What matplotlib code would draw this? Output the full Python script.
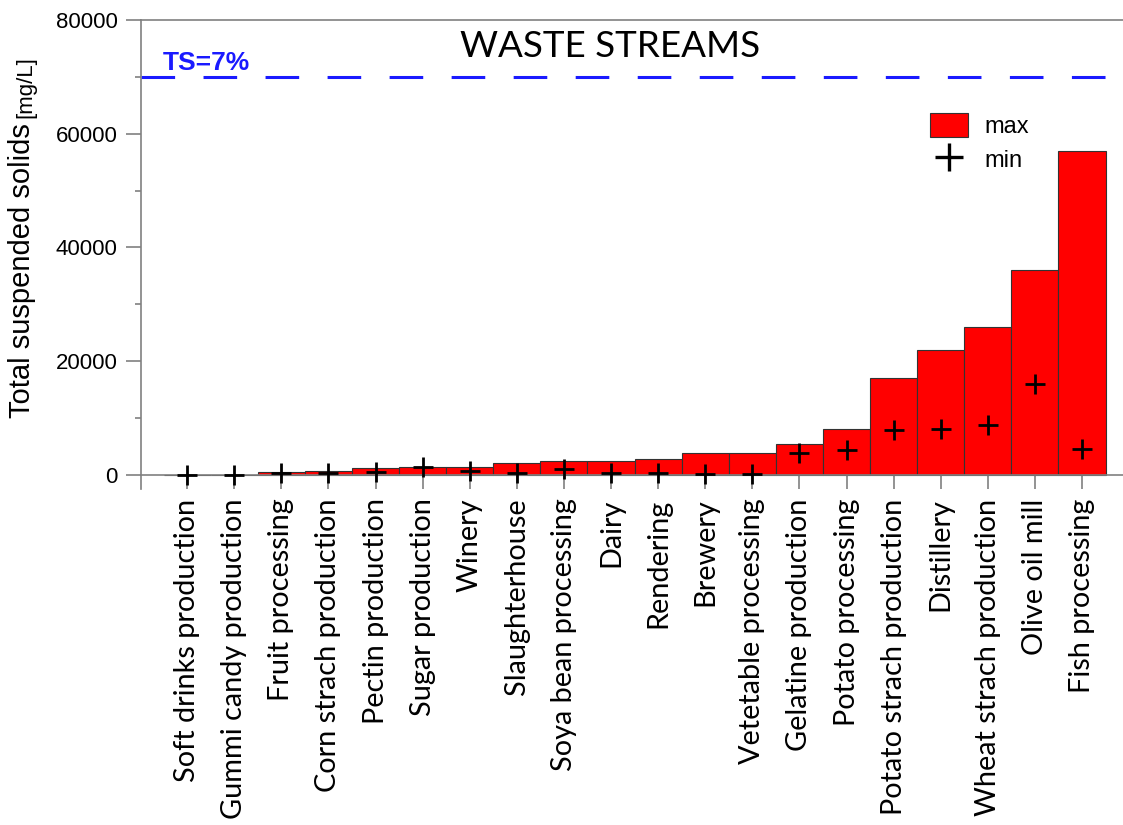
import matplotlib
matplotlib.use("Agg")
import matplotlib.pyplot as plt
from matplotlib.patches import Patch
from matplotlib.lines import Line2D
from matplotlib.ticker import MultipleLocator

categories = ["Soft drinks production", "Gummi candy production", "Fruit processing",
              "Corn strach production", "Pectin production", "Sugar production", "Winery",
              "Slaughterhouse", "Soya bean processing", "Dairy", "Rendering", "Brewery",
              "Vetetable processing", "Gelatine production", "Potato processing",
              "Potato strach production", "Distillery", "Wheat strach production",
              "Olive oil mill", "Fish processing"]
max_vals = [0, 0, 500, 600, 1200, 1400, 1400, 2000, 2350, 2450, 2700, 3900, 3900,
            5500, 8000, 17000, 22000, 26000, 36000, 57000]
min_vals = [0, 0, 300, 300, 500, 1450, 600, 300, 1050, 300, 300, 100, 100,
            3800, 4400, 7800, 8000, 8800, 15900, 4600]
ts_level = 70000
ts_label = "TS=7%"
title = "WASTE STREAMS"
ylabel_main = "Total suspended solids"
ylabel_unit = "[mg/L]"

W, H = 1123, 825
fig = plt.figure(figsize=(W / 100, H / 100), dpi=100)
ax = fig.add_axes([141 / W, 1 - 489 / H, 1 - 141 / W, (489 - 20) / H])

x = list(range(len(categories)))
ax.bar(x, max_vals, width=1.0, color="#ff0000", edgecolor="#333333", linewidth=0.8,
       zorder=2)
ax.plot(x, min_vals, linestyle="none", marker="+", markersize=15, markeredgewidth=2.0,
        color="black", zorder=3)
ax.axhline(ts_level, color="#1a1aff", lw=2.2, ls=(0, (11, 9.3)), zorder=1)

ax.set_xlim(-0.98, 19.87)
ax.set_ylim(-2500, 80000)

gray = "#808080"
ax.spines["right"].set_visible(False)
ax.spines["bottom"].set_position(("data", 0))
for s in ["left", "top", "bottom"]:
    ax.spines[s].set_color(gray)
    ax.spines[s].set_linewidth(1.2)

ax.set_yticks([0, 20000, 40000, 60000, 80000])
ax.yaxis.set_minor_locator(MultipleLocator(10000))
ax.tick_params(axis="y", which="major", length=10.8, width=1.2, color=gray, pad=6,
               labelsize=16)
ax.tick_params(axis="y", which="minor", length=4.3, width=1.2, color=gray)
for lab in ax.get_yticklabels():
    lab.set_family("Liberation Sans")

ax.set_xticks(x)
ax.set_xticklabels(categories, rotation=90, family="Lato", fontsize=20.8)
ax.tick_params(axis="x", which="major", length=10, width=1.2, color=gray, pad=7)

fig.text(610 / W, 1 - 57 / H, title, ha="center", va="baseline", family="Lato",
         fontsize=26.5)
fig.text(163 / W, 1 - 70 / H, ts_label, ha="left", va="baseline", color="#1a1aff",
         family="Liberation Sans", fontweight="bold", fontsize=19)

t1 = fig.text(22 / W, 1 - 418 / H, ylabel_main, rotation=90, ha="center", va="bottom",
              family="Liberation Sans", fontsize=21)
ax.annotate(ylabel_unit, xy=(1, 1), xycoords=t1, xytext=(0, 4),
            textcoords="offset points", rotation=90, ha="right", va="bottom",
            family="Liberation Sans", fontsize=16, annotation_clip=False)

handles = [Patch(facecolor="#ff0000", edgecolor="#333333", linewidth=0.8),
           Line2D([], [], linestyle="none", marker="+", markersize=20,
                  markeredgewidth=2.4, color="black")]
leg = fig.legend(handles, ["max", "min"], loc="upper left",
                 bbox_to_anchor=(909 / W, 1 - 92 / H), frameon=False,
                 prop={"family": "Liberation Sans", "size": 17},
                 handlelength=1.6, handleheight=1.2, handletextpad=0.7,
                 labelspacing=0.35)

fig.savefig("out.png", dpi=100)
